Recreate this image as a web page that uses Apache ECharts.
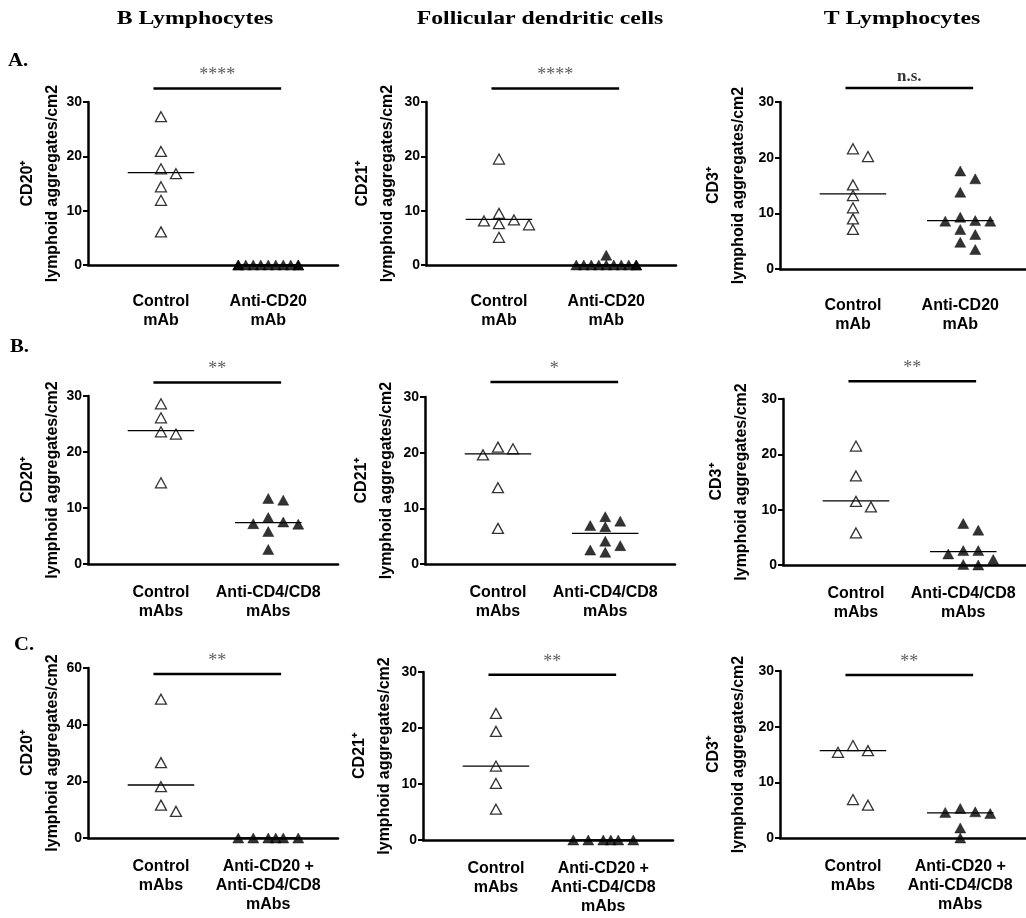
<!DOCTYPE html>
<html><head><meta charset="utf-8">
<script src="https://cdn.jsdelivr.net/npm/echarts@6/dist/echarts.min.js"></script>
<style>html,body{margin:0;padding:0;background:#fff}#c{width:1026px;height:918px}</style>
</head><body><div id="c"></div>
<script>
// ---------- text ----------
const columnTitles = ["B Lymphocytes", "Follicular dendritic cells", "T Lymphocytes"];
const rowLabels = ["A.", "B.", "C."];
const markerNames = ["CD20⁺", "CD21⁺", "CD3⁺"];
const yAxisSubtitle = "lymphoid aggregates/cm2";
const rowCategories = [
  ["Control\nmAb", "Anti-CD20\nmAb"],
  ["Control\nmAbs", "Anti-CD4/CD8\nmAbs"],
  ["Control\nmAbs", "Anti-CD20 +\nAnti-CD4/CD8\nmAbs"]
];
const yMaxRowA = [30, 30, 30];
const yMaxRowB = [30, 30, 30];
const yMaxRowC = [60, 30, 30];
const yStepRowA = [10, 10, 10];
const yStepRowB = [10, 10, 10];
const yStepRowC = [20, 10, 10];

// ---------- values (control = open triangles, treated = filled) ----------
const ctrlA1 = [27.3, 20.9, 17.7, 16.8, 14.4, 11.9, 6.1];
const trtA1  = [0, 0, 0, 0, 0, 0, 0, 0, 0, 0, 0];
const ctrlA2 = [19.5, 9.5, 8.3, 8.1, 7.6, 7.4, 5.1];
const trtA2  = [1.8, 0, 0, 0, 0, 0, 0, 0, 0, 0, 0];
const ctrlA3 = [21.6, 20.2, 15.1, 13.2, 11.0, 9.0, 7.1];
const trtA3  = [17.6, 16.2, 13.8, 9.3, 8.7, 8.6, 8.6, 7.1, 6.2, 4.8, 3.5];
const ctrlB1 = [28.6, 26.1, 23.6, 23.2, 14.5];
const trtB1  = [11.7, 11.4, 8.3, 7.5, 7.2, 7.1, 5.8, 2.6];
const ctrlB2 = [21.0, 20.7, 19.6, 13.7, 6.4];
const trtB2  = [8.5, 7.7, 6.9, 6.7, 4.1, 3.3, 2.5, 2.1];
const ctrlB3 = [21.5, 16.1, 11.5, 10.5, 5.8];
const trtB3  = [7.5, 6.3, 2.6, 2.6, 2.0, 1.0, 0.1, 0];
const ctrlC1 = [49.0, 26.6, 18.1, 11.6, 9.4];
const trtC1  = [0, 0, 0, 0, 0, 0];
const ctrlC2 = [22.6, 19.4, 13.2, 10.1, 5.5];
const trtC2  = [0, 0, 0, 0, 0, 0];
const ctrlC3 = [16.6, 15.7, 15.4, 6.9, 5.9];
const trtC3  = [5.3, 4.7, 4.6, 4.4, 1.8, 0];

// medians (horizontal lines) [control, treated]
const medA1 = [17.0, 0];  const medA2 = [8.4, 0];   const medA3 = [13.5, 8.7];
const medB1 = [23.8, 7.4]; const medB2 = [19.8, 5.5]; const medB3 = [11.6, 2.4];
const medC1 = [18.7, 0];  const medC2 = [13.2, 0];  const medC3 = [15.7, 4.5];

// significance
const sigTextA = ["****", "****", "n.s."];
const sigTextB = ["**", "*", "**"];
const sigTextC = ["**", "**", "**"];
const sigLevelA = [32.5, 32.5, 32.5];
const sigLevelB = [32.4, 32.7, 33.2];
const sigLevelC = [57.9, 29.5, 29.3];

// ---------- layout ----------
const panelData = [
  [[ctrlA1, trtA1, medA1], [ctrlA2, trtA2, medA2], [ctrlA3, trtA3, medA3]],
  [[ctrlB1, trtB1, medB1], [ctrlB2, trtB2, medB2], [ctrlB3, trtB3, medB3]],
  [[ctrlC1, trtC1, medC1], [ctrlC2, trtC2, medC2], [ctrlC3, trtC3, medC3]]
];
const yMaxes = [yMaxRowA, yMaxRowB, yMaxRowC];
const ySteps = [yStepRowA, yStepRowB, yStepRowC];
const sigTexts = [sigTextA, sigTextB, sigTextC];
const sigLevels = [sigLevelA, sigLevelB, sigLevelC];

const L = {
  left:   [[88, 426, 780], [88, 425, 783], [88, 423, 780]],
  top:    [[102, 102, 102], [396, 397, 399], [668, 672, 671]],
  height: [[163, 163, 167], [168, 167, 166], [170, 168, 167]],
  catMargin: [27, 19, 19],
  nameGap: [23, 26, 29]
};
const PPU = 107.3, XMIN = -0.68;
const SANS = "Liberation Sans", SERIF = "Liberation Serif";

// simple beeswarm (pixel offsets), greedy, least-overlap
function swarm(values, ppy) {
  const order = values.map((v, i) => i).sort((a, b) => values[b] - values[a]);
  const W = 10.5, H = 9, S = 7.5, K = 4;
  const cands = [0];
  for (let k = 1; k <= K; k++) cands.push(k * S, -k * S);
  const placed = [], off = new Array(values.length);
  for (const i of order) {
    const y = values[i] * ppy;
    let best = 0, bestCost = Infinity;
    for (const c of cands) {
      let cost = 0;
      for (const p of placed) {
        const dx = Math.abs(c - p.x), dy = Math.abs(y - p.y);
        if (dx < W && dy < H) cost += (W - dx) * (H - dy);
      }
      if (cost < bestCost - 1e-9) { bestCost = cost; best = c; }
    }
    placed.push({ x: best, y }); off[i] = best;
  }
  return off;
}

const grids = [], xAxes = [], yAxes = [], series = [];
for (let r = 0; r < 3; r++) {
  for (let c = 0; c < 3; c++) {
    const gi = grids.length;
    const left = L.left[r][c], top = L.top[r][c], h = L.height[r][c];
    const w = c === 2 ? 1026 - left : 250;
    const ymax = yMaxes[r][c];
    const ppy = h / ymax;
    const cats = rowCategories[r];
    grids.push({ left, top, width: w, height: h, outerBoundsMode: 'none', containLabel: false });
    xAxes.push({
      type: 'value', gridIndex: gi, min: XMIN, max: XMIN + w / PPU,
      axisLine: { onZero: false, lineStyle: { color: '#000', width: 2.5 } },
      axisTick: { show: false }, splitLine: { show: false },
      axisLabel: {
        customValues: [0, 1],
        formatter: v => cats[Math.round(v)],
        color: '#000', fontFamily: SANS, fontWeight: 'bold', fontSize: 16,
        lineHeight: 19, margin: L.catMargin[r]
      }
    });
    yAxes.push({
      type: 'value', gridIndex: gi, min: 0, max: ymax, interval: ySteps[r][c],
      axisLine: { show: true, onZero: false, lineStyle: { color: '#000', width: 2.5 } },
      axisTick: { show: true, length: 5, lineStyle: { color: '#000', width: 2 } },
      splitLine: { show: false },
      axisLabel: { color: '#000', fontFamily: SANS, fontWeight: 'bold', fontSize: 14, margin: 6 },
      name: markerNames[c] + '\n' + yAxisSubtitle,
      nameLocation: 'middle', nameGap: L.nameGap[c], nameRotate: 90, nameMoveOverlap: false,
      nameTextStyle: { color: '#000', fontFamily: SANS, fontWeight: 'bold', fontSize: 16, lineHeight: 25 }
    });
    const [ctrl, trt, med] = panelData[r][c];
    const groups = [ctrl, trt];
    groups.forEach((vals, g) => {
      const off = swarm(vals, ppy);
      series.push({
        type: 'scatter', xAxisIndex: gi, yAxisIndex: gi, clip: false, z: 3,
        symbol: 'triangle', symbolSize: [11, 10],
        itemStyle: g === 0 ? { color: '#fff', borderColor: '#000', borderWidth: 1.3 }
                           : { color: '#000', borderColor: '#000', borderWidth: 0.5 },
        data: vals.map((v, i) => [g + off[i] / PPU, v])
      });
      series.push({
        type: 'line', xAxisIndex: gi, yAxisIndex: gi, clip: false, z: 4, silent: true,
        symbol: 'none', lineStyle: { color: '#000', width: 1.3 },
        data: [[g - 0.31, med[g]], [g + 0.31, med[g]]]
      });
    });
    const lvl = sigLevels[r][c];
    series.push({
      type: 'line', xAxisIndex: gi, yAxisIndex: gi, clip: false, silent: true,
      symbol: 'none', lineStyle: { color: '#000', width: 2.5 },
      data: [[-0.07, lvl], [1.12, lvl]]
    });
    const st = sigTexts[r][c];
    const isNs = st === 'n.s.';
    series.push({
      type: 'scatter', xAxisIndex: gi, yAxisIndex: gi, clip: false, silent: true,
      symbolSize: 0,
      label: {
        show: true, position: 'top', distance: isNs ? 3 : 4,
        formatter: st, color: isNs ? '#000' : '#333',
        fontFamily: SERIF, fontWeight: isNs ? 'bold' : 'normal', fontSize: isNs ? 17 : 18
      },
      data: [[0.525, lvl]]
    });
  }
}

const graphics = [];
const titleX = [195, 540, 902];
columnTitles.forEach((t, i) => graphics.push({
  type: 'text', x: titleX[i], y: 19, scaleX: 1.25,
  style: { text: t, font: 'bold 19px "Liberation Serif"', fill: '#000', align: 'center', verticalAlign: 'middle' }
}));
const rowLabelY = [61, 347, 645], rowLabelX = [8, 10, 14];
rowLabels.forEach((t, i) => graphics.push({
  type: 'text', x: rowLabelX[i], y: rowLabelY[i], scaleX: 1.15,
  style: { text: t, font: 'bold 18px "Liberation Serif"', fill: '#000', align: 'left', verticalAlign: 'middle' }
}));

const chart = echarts.init(document.getElementById('c'), null, { renderer: 'canvas' });
chart.setOption({
  backgroundColor: '#fff', animation: false,
  grid: grids, xAxis: xAxes, yAxis: yAxes, series, graphic: graphics
});
</script></body></html>
